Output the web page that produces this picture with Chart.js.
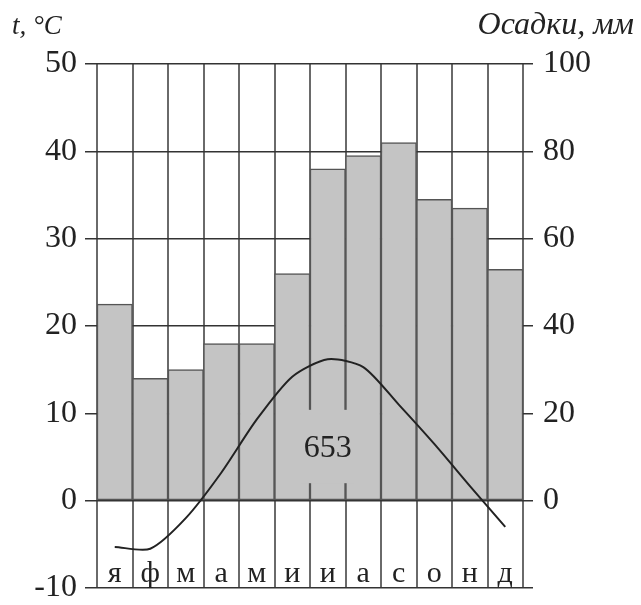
<!DOCTYPE html>
<html>
<head>
<meta charset="utf-8">
<script src="https://cdn.jsdelivr.net/npm/chart.js@4/dist/chart.umd.min.js"></script>
<style>
  html, body { margin: 0; padding: 0; background: #fff; }
  canvas { display: block; }
</style>
</head>
<body>
<canvas id="chart" width="641" height="605"></canvas>
<script>
/* DATOS */
const months = ["я", "ф", "м", "а", "м", "и", "и", "а", "с", "о", "н", "д"];
const precipitation = [45, 28, 30, 36, 36, 52, 76, 79, 82, 69, 67, 53];
const temperature = [-5.3, -5.5, -2.0, 3.2, 9.3, 14.2, 16.2, 15.3, 11.0, 6.5, 1.7, -3.0];
const tempRange = [-10, 50];
const precipRange = [-20, 100];

const total = precipitation.reduce((a, b) => a + b, 0);
const serif = "'Liberation Serif', 'DejaVu Serif', serif";
const barGray = "#c4c4c4";

/* TEXTOS EXTRA */
const extras = {
  id: "extras",
  afterDatasetsDraw(chart) {
    const ctx = chart.ctx;
    const x = chart.scales.x;
    const y = chart.scales.yT;
    ctx.save();

    // total de precipitaciones
    ctx.font = "32px " + serif;
    const label = String(total);
    const w = ctx.measureText(label).width;
    const cx = x.getPixelForValue(6);
    const cy = y.getPixelForValue(6.2);
    ctx.fillStyle = barGray;
    ctx.fillRect(cx - w / 2 - 2, y.getPixelForValue(10.4), w + 4,
      y.getPixelForValue(2.0) - y.getPixelForValue(10.4));
    ctx.fillStyle = "#222";
    ctx.textAlign = "center";
    ctx.textBaseline = "middle";
    ctx.fillText(label, cx, cy + 2);

    // meses
    ctx.font = "30px " + serif;
    ctx.textBaseline = "alphabetic";
    const base = y.getPixelForValue(-10) - 6;
    months.forEach((m, i) => {
      ctx.fillText(m, x.getPixelForValue(i), base);
    });

    // titulos de ejes
    ctx.textBaseline = "middle";
    ctx.textAlign = "left";
    ctx.font = "italic 27px " + serif;
    ctx.fillText("t, °C", 12, 27);
    ctx.textAlign = "right";
    ctx.font = "italic 32px " + serif;
    ctx.fillText("Осадки, мм", 634, 26);
    ctx.restore();
  }
};

// sin relleno automatico arriba/abajo para las etiquetas
function fitSide(width) {
  return function (s) {
    s.width = width;
    s.paddingTop = 0;
    s.paddingBottom = 0;
  };
}

/* GRAFICO */
new Chart(document.getElementById("chart"), {
  data: {
    labels: months,
    datasets: [
      {
        type: "line",
        data: temperature,
        yAxisID: "yT",
        borderColor: "#222",
        borderWidth: 2,
        pointRadius: 0,
        tension: 0.25,
        order: 0
      },
      {
        type: "bar",
        data: precipitation,
        yAxisID: "yP",
        backgroundColor: barGray,
        borderColor: "#555",
        borderWidth: 1.5,
        borderSkipped: false,
        barPercentage: 1,
        categoryPercentage: 1,
        order: 1
      }
    ]
  },
  options: {
    responsive: false,
    animation: false,
    layout: { padding: { top: 64, bottom: 17, left: 0, right: 0 } },
    plugins: {
      legend: { display: false },
      tooltip: { enabled: false }
    },
    scales: {
      x: {
        offset: true,
        grid: { offset: true, color: "#6a6a6a", lineWidth: 2, drawTicks: false },
        border: { display: false },
        ticks: { display: false },
        afterFit(s) { s.height = 0; }
      },
      yT: {
        position: "left",
        min: tempRange[0],
        max: tempRange[1],
        ticks: { stepSize: 10, color: "#222", padding: 8, font: { family: serif, size: 32, lineHeight: 1 } },
        grid: { color: "#333", lineWidth: 1.5, tickLength: 12 },
        border: { display: false },
        afterFit: fitSide(97)
      },
      yP: {
        position: "right",
        min: precipRange[0],
        max: precipRange[1],
        ticks: {
          stepSize: 20, color: "#222", padding: 10,
          font: { family: serif, size: 32, lineHeight: 1 },
          callback: v => (v < 0 ? "" : v)
        },
        grid: { drawOnChartArea: false, color: "#333", lineWidth: 1.5, tickLength: 10 },
        border: { display: false },
        afterFit: fitSide(118)
      }
    }
  },
  plugins: [extras]
});
</script>
</body>
</html>
